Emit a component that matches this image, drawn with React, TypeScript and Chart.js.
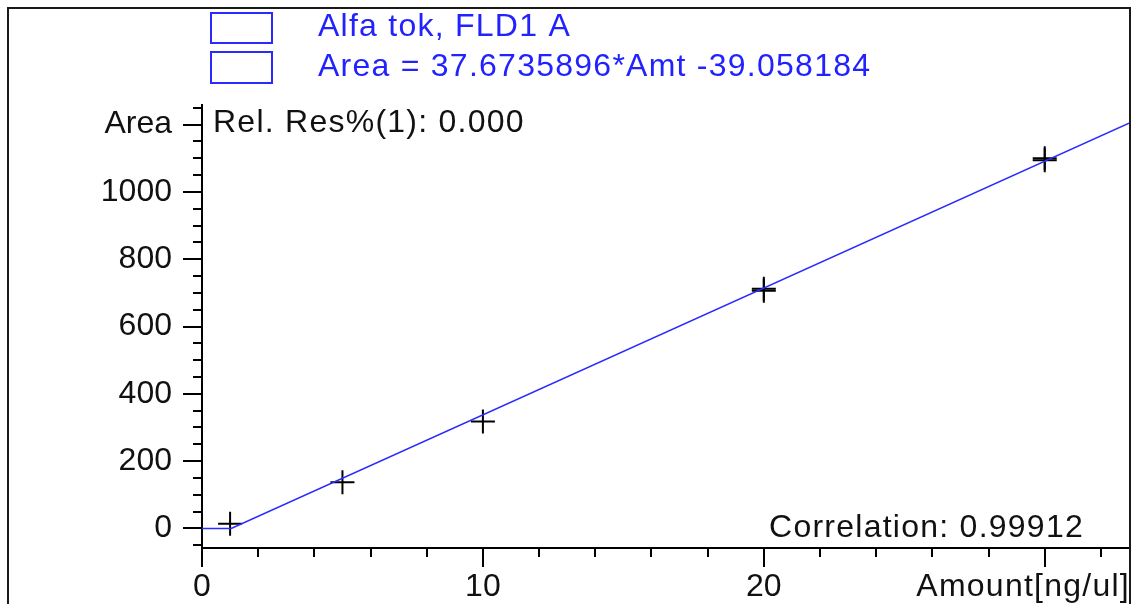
import React, { useEffect, useRef } from "react";
import { Chart, registerables } from "chart.js";

Chart.register(...registerables);

// ---- data ----
const amounts = [1, 5, 10, 20, 30];
const areas = [14, 137, 318, 706, 1100];
const replicateAmounts = [20, 30];
const replicateAreas = [712, 1094];
const fitAmounts = [0, 1.04, 33];
const fitAreas = [0, 0, 1204];

const xMajorTicks = [0, 10, 20, 30];
const xTickLabels = ["0", "10", "20", ""];
const yMajorTicks = [0, 200, 400, 600, 800, 1000, 1200];
const yTickLabels = ["0", "200", "400", "600", "800", "1000", "Area"];
const xMinorTicks = [2, 4, 6, 8, 12, 14, 16, 18, 22, 24, 26, 28, 32];
const yMinorTicks = [-50, 50, 100, 150, 250, 300, 350, 450, 500, 550, 650, 700, 750, 850, 900, 950, 1050, 1100, 1150, 1250];

const legendLines = ["Alfa tok, FLD1 A", "Area = 37.6735896*Amt -39.058184"];
const relResText = "Rel. Res%(1): 0.000";
const correlationText = "Correlation: 0.99912";
const xTitle = "Amount[ng/ul]";

const FONT = '"Liberation Sans", Arial, sans-serif';

const overlay = {
  id: "overlay",
  afterDraw(chart: any) {
    const { ctx, chartArea } = chart;
    const x = chart.scales.x;
    const y = chart.scales.y;
    ctx.save();
    // minor ticks
    ctx.strokeStyle = "#000";
    ctx.lineWidth = 2;
    ctx.beginPath();
    for (const v of yMinorTicks) {
      const py = Math.round(y.getPixelForValue(v));
      ctx.moveTo(chartArea.left - 9, py);
      ctx.lineTo(chartArea.left, py);
    }
    for (const v of xMinorTicks) {
      const px = Math.round(x.getPixelForValue(v));
      ctx.moveTo(px, chartArea.bottom);
      ctx.lineTo(px, chartArea.bottom + 9);
    }
    ctx.stroke();

    // legend boxes
    ctx.strokeStyle = "#2a2aff";
    ctx.lineWidth = 2;
    ctx.strokeRect(211, 13, 61, 30);
    ctx.strokeRect(211, 52, 61, 31);

    // texts
    ctx.font = `32px ${FONT}`;
    try {
      (ctx as any).letterSpacing = "1.25px";
    } catch (e) {}
    ctx.textBaseline = "alphabetic";
    ctx.textAlign = "left";
    ctx.fillStyle = "#2222ff";
    ctx.fillText(legendLines[0], 318, 36);
    ctx.fillText(legendLines[1], 318, 76);

    ctx.fillStyle = "#111";
    ctx.fillText(relResText, 213, 132);
    ctx.textAlign = "right";
    ctx.fillText(correlationText, 1084, 537);
    ctx.fillText(xTitle, 1130, 596);

    // frame
    ctx.strokeStyle = "#1a1a1a";
    ctx.lineWidth = 2;
    ctx.strokeRect(8, 8, 1122, 620);
    ctx.restore();
  },
};

export default function App() {
  const ref = useRef<HTMLCanvasElement | null>(null);

  useEffect(() => {
    if (!ref.current) return;
    const chart = new Chart(ref.current, {
      type: "scatter",
      data: {
        datasets: [
          {
            label: "fit",
            data: fitAmounts.map((a, i) => ({ x: a, y: fitAreas[i] })),
            showLine: true,
            borderColor: "#2b2bff",
            borderWidth: 1.6,
            pointRadius: 0,
            fill: false,
          },
          {
            label: "points",
            data: amounts.map((a, i) => ({ x: a, y: areas[i] })),
            showLine: false,
            pointStyle: "cross",
            pointRadius: 12,
            pointBorderWidth: 2,
            borderColor: "#000",
            backgroundColor: "#000",
          },
          {
            label: "replicates",
            data: replicateAmounts.map((a, i) => ({ x: a, y: replicateAreas[i] })),
            showLine: false,
            pointStyle: "cross",
            pointRadius: 12,
            pointBorderWidth: 2,
            borderColor: "#000",
            backgroundColor: "#000",
          },
        ],
      },
      options: {
        animation: false,
        responsive: false,
        devicePixelRatio: 1,
        layout: { autoPadding: false, padding: { left: 0, right: 8, top: 105, bottom: 0 } },
        plugins: {
          legend: { display: false },
          tooltip: { enabled: false },
        },
        scales: {
          x: {
            type: "linear",
            min: 0,
            max: 33,
            afterBuildTicks: (scale: any) => {
              scale.ticks = xMajorTicks.map((v) => ({ value: v }));
            },
            afterFit: (scale: any) => {
              scale.height = 56;
              scale.paddingLeft = 0;
              scale.paddingRight = 0;
            },
            grid: {
              drawOnChartArea: false,
              drawTicks: true,
              tickLength: 19,
              color: "#000",
              lineWidth: 2,
            },
            border: { display: true, color: "#000", width: 2 },
            ticks: {
              autoSkip: false,
              maxRotation: 0,
              padding: 1,
              color: "#111",
              font: { family: FONT, size: 32 },
              callback: (v: any) => {
                const i = xMajorTicks.indexOf(Number(v));
                return i >= 0 ? xTickLabels[i] : "";
              },
            },
          },
          y: {
            type: "linear",
            min: -58,
            max: 1258,
            afterBuildTicks: (scale: any) => {
              scale.ticks = yMajorTicks.map((v) => ({ value: v }));
            },
            afterFit: (scale: any) => {
              scale.width = 202;
              scale.paddingTop = 0;
              scale.paddingBottom = 0;
            },
            grid: {
              drawOnChartArea: false,
              drawTicks: true,
              tickLength: 19,
              color: "#000",
              lineWidth: 2,
            },
            border: { display: true, color: "#000", width: 2 },
            ticks: {
              autoSkip: false,
              padding: 11,
              color: "#111",
              font: { family: FONT, size: 32 },
              callback: (v: any) => {
                const i = yMajorTicks.indexOf(Number(v));
                return i >= 0 ? yTickLabels[i] : "";
              },
            },
          },
        },
      },
      plugins: [overlay],
    } as any);
    return () => chart.destroy();
  }, []);

  return (
    <div
      style={{
        position: "fixed",
        left: 0,
        top: 0,
        width: 1137,
        height: 604,
        background: "#fff",
        overflow: "hidden",
      }}
    >
      <canvas ref={ref} width={1137} height={604} style={{ display: "block", width: 1137, height: 604 }} />
    </div>
  );
}
